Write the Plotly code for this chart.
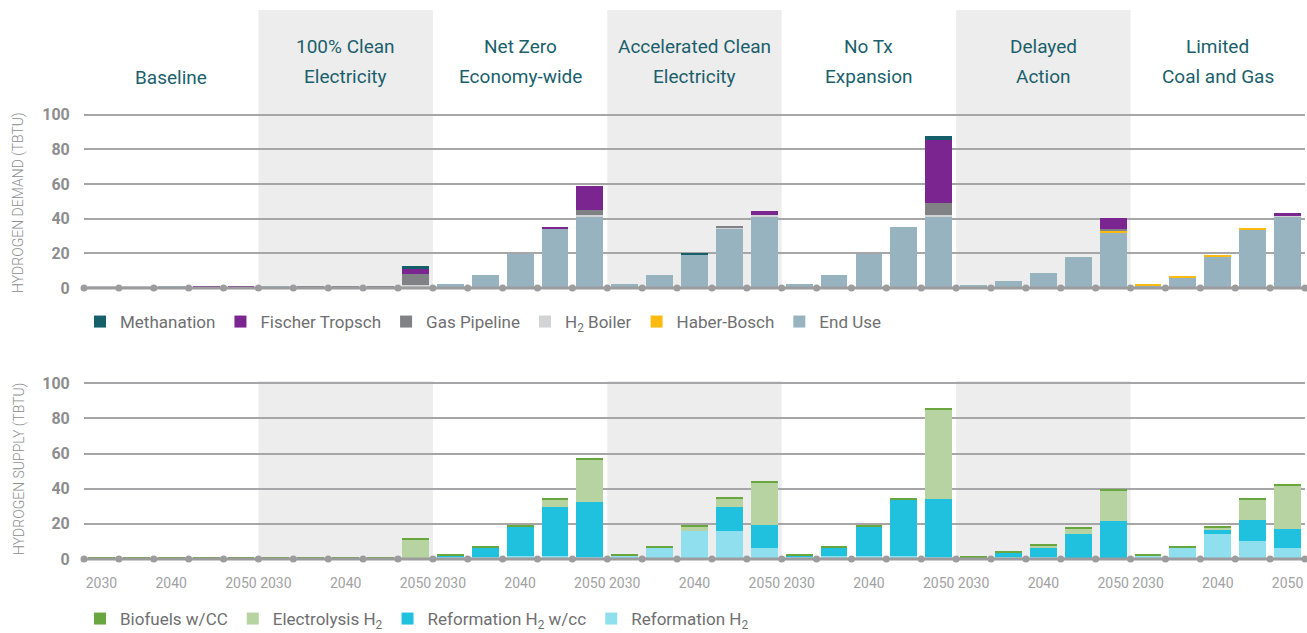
import plotly.graph_objects as go

# Scenarios and model years
scenarios = ["Baseline", "100% Clean<br>Electricity", "Net Zero<br>Economy-wide",
             "Accelerated Clean<br>Electricity", "No Tx<br>Expansion",
             "Delayed<br>Action", "Limited<br>Coal and Gas"]
years = [2030, 2035, 2040, 2045, 2050]
year_labels = {2030: "2030", 2040: "2040", 2050: "2050"}

# Hydrogen demand (TBTU), 5 years per scenario in scenario order
end_use = [0.3, 0.3, 1.0, 0.5, 0.5,
           1.0, 0.4, 0.4, 0.4, 1.0,
           2.5, 7.3, 19.8, 34.5, 41.3,
           2.5, 7.3, 19.4, 34.4, 41.3,
           2.5, 7.3, 19.8, 35.0, 41.3,
           1.5, 3.9, 8.5, 17.7, 31.5,
           1.5, 6.2, 18.3, 33.9, 41.0]
haber_bosch = [0, 0, 0, 0, 0,
               0, 0, 0, 0, 0,
               0, 0, 0, 0, 0,
               0, 0, 0, 0, 0,
               0, 0, 0, 0, 0,
               0, 0, 0, 0, 1.2,
               0.8, 0.6, 0.6, 0.6, 0]
h2_boiler = [0.8, 0.8, 0, 0, 0,
             0, 0, 0, 0, 0.5,
             0, 0, 0, 0, 0.6,
             0, 0, 0, 0.5, 0.6,
             0, 0, 0, 0, 0.6,
             0, 0, 0, 0, 0,
             0, 0, 0, 0, 0.6]
gas_pipeline = [0, 0, 0, 0, 0,
                0, 0.6, 0.6, 0.6, 6.5,
                0, 0, 0, 0, 2.9,
                0, 0, 0, 1.1, 0,
                0, 0, 0, 0, 6.9,
                0, 0, 0, 0, 1.2,
                0, 0, 0, 0, 0]
fischer_tropsch = [0, 0, 0, 0.6, 0.6,
                   0, 0, 0, 0, 3.5,
                   0, 0, 0, 0.5, 13.8,
                   0, 0, 0, 0, 2.3,
                   0, 0, 0, 0, 36.3,
                   0, 0, 0, 0, 6.3,
                   0, 0, 0, 0, 1.5]
methanation = [0, 0, 0, 0, 0,
               0, 0, 0, 0, 1.0,
               0, 0, 0, 0, 0,
               0, 0, 0.5, 0, 0,
               0, 0, 0, 0, 2.3,
               0, 0, 0, 0, 0,
               0, 0, 0, 0, 0]

# Hydrogen supply (TBTU)
reformation = [0, 0, 0, 0, 0,
               0, 0, 0, 0, 0,
               1.2, 1.2, 1.7, 1.7, 1.1,
               1.7, 6.8, 15.9, 15.9, 6.3,
               1.2, 1.7, 1.7, 1.7, 1.1,
               0.6, 1.1, 1.1, 0.6, 0.6,
               1.7, 6.8, 14.2, 10.2, 6.3]
reformation_cc = [0, 0, 0, 0, 0,
                  0, 0, 0, 0, 0,
                  0.5, 5.5, 16.7, 27.9, 31.3,
                  0, 0, 0, 13.7, 13.1,
                  0.5, 5.1, 16.7, 31.9, 33.0,
                  0.5, 2.3, 5.7, 13.7, 21.1,
                  0, 0, 2.8, 12.0, 10.8]
electrolysis = [0, 0, 0, 0, 0,
                0, 0, 0, 0, 11.2,
                0, 0, 0, 4.0, 24.5,
                0, 0, 2.8, 5.1, 23.9,
                0, 0, 0, 0, 51.2,
                0, 0, 0.6, 2.8, 17.1,
                0, 0, 1.1, 11.4, 25.0]
biofuels_cc = [0.7, 0.7, 0.7, 0.7, 0.7,
               0.7, 0.7, 0.7, 0.7, 0.5,
               0.6, 0.6, 0.6, 0.6, 0.6,
               0.6, 0.6, 0.6, 0.6, 0.6,
               0.6, 0.6, 0.6, 0.6, 0.6,
               0.6, 0.6, 0.6, 0.6, 0.6,
               0.6, 0.6, 0.6, 0.6, 0.6]

FONT = "Roboto, Liberation Sans, sans-serif"
GREY_TXT = "#8d8d8f"
TEAL = "#1b5f6c"
AXIS = "#9c9c9e"
GRID = "#a6a6a8"
SHADE = "#ededed"

n_years = len(years)
n_bars = len(scenarios) * n_years
xpos = list(range(n_bars))
year_of_bar = [years[i % n_years] for i in xpos]

W, H = 1307, 633
def py(p):  # pixel row -> paper y
    return 1 - p / H

fig = go.Figure()

demand_series = [
    ("End Use", end_use, "#97b3bf"),
    ("Haber-Bosch", haber_bosch, "#fdbb12"),
    ("H<sub>2</sub> Boiler", h2_boiler, "#d2d3d5"),
    ("Gas Pipeline", gas_pipeline, "#808285"),
    ("Fischer Tropsch", fischer_tropsch, "#7b2590"),
    ("Methanation", methanation, "#155f6b"),
]
supply_series = [
    ("Reformation H<sub>2</sub>", reformation, "#90dfee"),
    ("Reformation H<sub>2</sub> w/cc", reformation_cc, "#1fc1de"),
    ("Electrolysis H<sub>2</sub>", electrolysis, "#b6d3a1"),
    ("Biofuels w/CC", biofuels_cc, "#69a63d"),
]

for name, vals, col in demand_series:
    fig.add_trace(go.Bar(x=xpos, y=vals, name=name, marker_color=col,
                         marker_line_width=0, width=0.77,
                         xaxis="x", yaxis="y", legend="legend"))
for name, vals, col in supply_series:
    fig.add_trace(go.Bar(x=xpos, y=vals, name=name, marker_color=col,
                         marker_line_width=0, width=0.77,
                         xaxis="x2", yaxis="y2", legend="legend2"))

# zero line with dots at the boundaries between bars
bounds = [i - 0.5 for i in range(n_bars + 1)]
for xa, ya in (("x", "y"), ("x2", "y2")):
    fig.add_trace(go.Scatter(x=bounds, y=[0] * len(bounds), mode="lines+markers",
                             line=dict(color=AXIS, width=3),
                             marker=dict(color=AXIS, size=7),
                             showlegend=False, hoverinfo="skip",
                             cliponaxis=False, xaxis=xa, yaxis=ya))

# shaded bands behind alternate scenarios
top_max, bot_max = 160.3, 101.3
shapes = []
for s in range(1, len(scenarios), 2):
    x0, x1 = s * n_years - 0.5, (s + 1) * n_years - 0.5
    shapes.append(dict(type="rect", xref="x", yref="y", x0=x0, x1=x1, y0=0, y1=top_max,
                       fillcolor=SHADE, line_width=0, layer="below"))
    shapes.append(dict(type="rect", xref="x2", yref="y2", x0=x0, x1=x1, y0=0, y1=bot_max,
                       fillcolor=SHADE, line_width=0, layer="below"))

annotations = []
for s, title in enumerate(scenarios):
    xc = s * n_years + (n_years - 1) / 2
    lines = title.split("<br>")
    rows = [77] if len(lines) == 1 else [47, 76]
    for line, row in zip(lines, rows):
        annotations.append(dict(x=xc, xref="x", y=py(row), yref="paper", text=line,
                                showarrow=False, xanchor="center", yanchor="middle",
                                font=dict(family=FONT, size=19, color=TEAL)))
for label, row in (("HYDROGEN DEMAND (TBTU)", 203), ("HYDROGEN SUPPLY (TBTU)", 469)):
    annotations.append(dict(x=19 / W, xref="paper", y=py(row), yref="paper",
                            text=label, textangle=-90, showarrow=False,
                            xanchor="center", yanchor="middle",
                            font=dict(family=FONT, size=14, color=GREY_TXT, weight=300)))

xdom = [84 / W, 1305 / W]
tick_x = [i for i in xpos if year_of_bar[i] in year_labels]
tick_t = [year_labels[year_of_bar[i]] for i in tick_x]

yaxis_common = dict(tickvals=[0, 20, 40, 60, 80, 100], showgrid=True, gridcolor=GRID,
                    gridwidth=1.5, zeroline=False, showline=False, ticks="outside",
                    ticklen=10, tickcolor="rgba(0,0,0,0)",
                    tickfont=dict(family=FONT, size=16, color=GREY_TXT, weight="bold"))

legend_font = dict(family=FONT, size=17, color="#6f6f71")

fig.update_layout(
    width=W, height=H, margin=dict(l=0, r=0, t=0, b=0, autoexpand=False),
    paper_bgcolor="white", plot_bgcolor="rgba(0,0,0,0)",
    barmode="stack", bargap=0,
    showlegend=True,
    xaxis=dict(domain=xdom, range=[-0.5, n_bars - 0.5], showticklabels=False,
               showgrid=False, zeroline=False, anchor="y"),
    xaxis2=dict(domain=xdom, range=[-0.5, n_bars - 0.5], tickvals=tick_x, ticktext=tick_t,
                showgrid=False, zeroline=False, anchor="y2", ticks="outside", ticklen=4,
                tickcolor="rgba(0,0,0,0)", tickangle=0,
                tickfont=dict(family=FONT, size=14, color="#a2a2a4")),
    yaxis=dict(domain=[py(295), py(10)], range=[-4, top_max], anchor="x", **yaxis_common),
    yaxis2=dict(domain=[py(566), py(381)], range=[-4, bot_max], anchor="x2", **yaxis_common),
    legend=dict(orientation="h", x=80 / W, y=py(322), xanchor="left", yanchor="middle",
                traceorder="reversed", font=legend_font, bgcolor="rgba(0,0,0,0)"),
    legend2=dict(orientation="h", x=80 / W, y=py(619), xanchor="left", yanchor="middle",
                 traceorder="reversed", font=legend_font, bgcolor="rgba(0,0,0,0)"),
    shapes=shapes, annotations=annotations,
)

fig.write_html("out.html")
